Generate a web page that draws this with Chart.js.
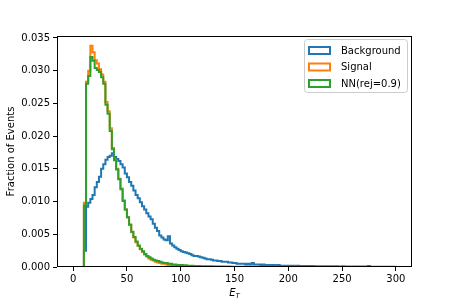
<!DOCTYPE html>
<html>
<head>
<meta charset="utf-8">
<script src="https://cdn.jsdelivr.net/npm/chart.js@4.4.1/dist/chart.umd.min.js"></script>
<style>
  html, body { margin: 0; padding: 0; background: #fff; }
  #wrap { width: 458px; height: 305px; }
</style>
</head>
<body>
<div id="wrap"><canvas id="histchart" width="458" height="305"></canvas></div>
<script>
// histogram bins: width 2, edges 0..300 (density values)
const binWidth = 2;
const binStart = 0;
const binEnd = 300;

const backgroundValues = [
  0, 0, 0, 0, 0, 0.0025, 0.0092, 0.0098, 0.0104, 0.0110,
  0.0122, 0.0130, 0.0138, 0.0150, 0.0157, 0.0164, 0.0168, 0.0170, 0.0174, 0.0168,
  0.0165, 0.0162, 0.0157, 0.0152, 0.0143, 0.0137, 0.0130, 0.0124, 0.0117, 0.0110,
  0.0105, 0.0099, 0.0093, 0.0088, 0.0082, 0.0077, 0.0073, 0.0066, 0.0060, 0.0055,
  0.0048, 0.0045, 0.0042, 0.0041, 0.0047, 0.0036, 0.0033, 0.0030, 0.0028, 0.0026,
  0.0024, 0.0023, 0.0022, 0.0021, 0.0020, 0.0018, 0.0017, 0.0017, 0.0016, 0.0015,
  0.0014, 0.0013, 0.0012, 0.0012, 0.0011, 0.0010, 0.0010, 0.0009, 0.0009, 0.0008,
  0.0008, 0.0008, 0.0007, 0.0007, 0.0006, 0.0006, 0.0005, 0.0005, 0.0005, 0.0005,
  0.0004, 0.0005, 0.0004, 0.0006, 0.0004, 0.0004, 0.0004, 0.0003, 0.0004, 0.0003,
  0.0003, 0.0003, 0.0003, 0.0003, 0.0002, 0.0003, 0.0002, 0.0002, 0.0002, 0.0002,
  0.0002, 0.0002, 0.0002, 0.00015, 0.0002, 0.00015, 0.00015, 0.00015, 0.0001, 0.00015,
  0.0001, 0.00015, 0.0001, 0.0001, 0.0001, 0.00012, 0.0001, 0.0001, 0.00008, 0.0001,
  0.0001, 0.00008, 0.0001, 0.00008, 0.00008, 0.0001, 0.00006, 0.00008, 0.00008, 0.00006,
  0.00008, 0.00006, 0.00006, 0.00008, 0.00006, 0.00006, 0.00005, 0.00015, 0.00005, 0.00005,
  0.00005, 0.00004, 0.00005, 0.00004, 0.00004, 0.00004, 0.00003, 0.00004, 0.00003, 0.00003
];

const signalValues = [
  0, 0, 0, 0, 0, 0.0098, 0.0283, 0.0300, 0.0338, 0.0328,
  0.0316, 0.0311, 0.0302, 0.0294, 0.0283, 0.0252, 0.0238, 0.0212, 0.0182, 0.0164,
  0.0150, 0.0135, 0.0120, 0.0102, 0.0088, 0.0076, 0.0064, 0.0053, 0.0045, 0.0038,
  0.0032, 0.0027, 0.0023, 0.0019, 0.0016, 0.0013, 0.0011, 0.0010, 0.0008, 0.0007,
  0.0006, 0.0005, 0.0005, 0.0004, 0.0003, 0.0003, 0.00025, 0.0002, 0.0002, 0.00015,
  0.00015, 0.0001, 0.0001, 0.0001, 0.00008, 0.00008, 0.00006, 0.00006, 0.00005, 0.00005,
  0.00004, 0.00003, 0.00004, 0.00003, 0.00002, 0.00003, 0.00002, 0.00002, 0.00001, 0.00002,
  0.00001, 0.00001, 0.00001, 0, 0.00001, 0, 0.00001, 0, 0, 0.00001,
  0, 0, 0.00001, 0, 0, 0, 0, 0.00001, 0, 0,
  0, 0, 0, 0, 0, 0, 0, 0, 0, 0,
  0, 0, 0, 0, 0, 0, 0, 0, 0, 0,
  0, 0, 0, 0, 0, 0, 0, 0, 0, 0,
  0, 0, 0, 0, 0, 0, 0, 0, 0, 0,
  0, 0, 0, 0, 0, 0, 0, 0, 0, 0,
  0, 0, 0, 0, 0, 0, 0, 0, 0, 0
];

const nnValues = [
  0, 0, 0, 0, 0, 0.0094, 0.0280, 0.0292, 0.0321, 0.0315,
  0.0304, 0.0301, 0.0298, 0.0290, 0.0280, 0.0248, 0.0234, 0.0208, 0.0180, 0.0163,
  0.0149, 0.0134, 0.0119, 0.0101, 0.0088, 0.0076, 0.0065, 0.0054, 0.0046, 0.0039,
  0.0033, 0.0028, 0.0024, 0.0020, 0.0017, 0.0015, 0.0013, 0.0011, 0.0010, 0.0009,
  0.0008, 0.0007, 0.0006, 0.0006, 0.0005, 0.0005, 0.0004, 0.0004, 0.0003, 0.0003,
  0.0003, 0.00025, 0.00025, 0.0002, 0.0002, 0.0002, 0.00015, 0.00015, 0.00015, 0.0001,
  0.0001, 0.0001, 0.0001, 0.00008, 0.0001, 0.00008, 0.00008, 0.00006, 0.00008, 0.00006,
  0.00006, 0.00005, 0.00006, 0.00005, 0.00005, 0.00004, 0.00005, 0.00004, 0.00004, 0.00004,
  0.00003, 0.00004, 0.00003, 0.00003, 0.00003, 0.00003, 0.00002, 0.00003, 0.00002, 0.00002,
  0.00002, 0.00002, 0.00002, 0.00002, 0.00002, 0.00001, 0.00002, 0.00001, 0.00002, 0.00001,
  0.00001, 0.00001, 0.00001, 0.00001, 0.00001, 0.00001, 0.00001, 0.00001, 0.00001, 0.00001,
  0.00001, 0.00001, 0.00001, 0.00001, 0.00001, 0.00001, 0.00001, 0.00001, 0.00001, 0.00001,
  0.00001, 0.00001, 0.00001, 0.00001, 0.00001, 0.00001, 0.00001, 0.00001, 0.00001, 0.00001,
  0.00001, 0.00001, 0.00001, 0.00001, 0.00001, 0.00001, 0.00001, 0.00001, 0.00001, 0.00001,
  0.00001, 0.00001, 0.00001, 0.00001, 0.00001, 0.00001, 0.00001, 0.00001, 0.00001, 0.00001
];

const seriesNames = ["Background", "Signal", "NN(rej=0.9)"];
const seriesColors = ["#1f77b4", "#ff7f0e", "#2ca02c"];

const xTicks = [0, 50, 100, 150, 200, 250, 300];
const yTicks = [0, 0.005, 0.010, 0.015, 0.020, 0.025, 0.030, 0.035];

// turn bin values into step points (left edge -> value, last edge -> 0)
const tosteps = (values) => {
  const pts = values.map((v, i) => ({ x: binStart + i * binWidth, y: v }));
  pts.push({ x: binEnd, y: 0 });
  return pts;
};

const fontname = "'DejaVu Sans', sans-serif";

// frame, legend and axis titles like matplotlib
const mplextras = {
  id: "mplextras",
  afterDraw(chart) {
    const ctx = chart.ctx;
    const a = chart.chartArea;
    ctx.save();
    // four spines
    ctx.strokeStyle = "#000";
    ctx.lineWidth = 1;
    ctx.strokeRect(Math.round(a.left) + 0.5, Math.round(a.top) + 0.5,
      Math.round(a.right - a.left) - 1, Math.round(a.bottom - a.top) - 1);

    // legend box in upper right
    const lw = 103, lh = 53;
    const lx = a.right - 5 - lw, ly = a.top + 3;
    ctx.beginPath();
    if (ctx.roundRect) ctx.roundRect(lx + 0.5, ly + 0.5, lw, lh, 3);
    else ctx.rect(lx + 0.5, ly + 0.5, lw, lh);
    ctx.fillStyle = "rgba(255,255,255,0.8)";
    ctx.fill();
    ctx.strokeStyle = "#cccccc";
    ctx.lineWidth = 1;
    ctx.stroke();
    ctx.font = "10px " + fontname;
    ctx.textBaseline = "middle";
    ctx.textAlign = "left";
    for (let i = 0; i < seriesNames.length; i++) {
      const cy = ly + 11.5 + i * 16.5;
      ctx.strokeStyle = seriesColors[i];
      ctx.lineWidth = 2;
      ctx.strokeRect(lx + 5, cy - 3.5, 21, 7);
      ctx.fillStyle = "#000";
      ctx.fillText(seriesNames[i], lx + 37, cy + 0.5);
    }

    // y axis title
    ctx.save();
    ctx.translate(11, (a.top + a.bottom) / 2);
    ctx.rotate(-Math.PI / 2);
    ctx.textAlign = "center";
    ctx.fillStyle = "#000";
    ctx.font = "10px " + fontname;
    ctx.fillText("Fraction of Events", 0, 0);
    ctx.restore();

    // x axis title E_T
    const cx = (a.left + a.right) / 2;
    const ty = a.bottom + 26;
    ctx.fillStyle = "#000";
    ctx.font = "italic 10px " + fontname;
    const ew = ctx.measureText("E").width;
    ctx.font = "italic 7px " + fontname;
    const tw = ctx.measureText("T").width;
    const x0 = cx - (ew + tw) / 2;
    ctx.font = "italic 10px " + fontname;
    ctx.fillText("E", x0, ty);
    ctx.font = "italic 7px " + fontname;
    ctx.fillText("T", x0 + ew, ty + 3);
    ctx.restore();
  }
};

const ctx = document.getElementById("histchart");
new Chart(ctx, {
  type: "line",
  data: {
    datasets: [
      {
        label: seriesNames[0],
        data: tosteps(backgroundValues),
        borderColor: seriesColors[0],
        order: 3
      },
      {
        label: seriesNames[1],
        data: tosteps(signalValues),
        borderColor: seriesColors[1],
        order: 2
      },
      {
        label: seriesNames[2],
        data: tosteps(nnValues),
        borderColor: seriesColors[2],
        order: 1
      }
    ].map(d => Object.assign(d, {
      stepped: "before",
      borderWidth: 2,
      pointRadius: 0,
      fill: false,
      tension: 0
    }))
  },
  options: {
    responsive: false,
    animation: false,
    events: [],
    layout: {
      padding: { top: 36, right: 46, left: 0, bottom: 0 }
    },
    scales: {
      x: {
        type: "linear",
        min: -15,
        max: 315,
        afterFit: (scale) => { scale.height = 38; },
        afterBuildTicks: (scale) => { scale.ticks = xTicks.map(v => ({ value: v })); },
        ticks: {
          color: "#000",
          padding: 2,
          maxRotation: 0,
          font: { family: fontname, size: 10 },
          callback: (v) => String(v)
        },
        grid: {
          display: true,
          drawOnChartArea: false,
          drawTicks: true,
          tickLength: 4,
          tickColor: "#000"
        },
        border: { display: false }
      },
      y: {
        min: 0,
        max: 0.0353,
        afterFit: (scale) => { scale.width = 57; },
        afterBuildTicks: (scale) => { scale.ticks = yTicks.map(v => ({ value: v })); },
        ticks: {
          color: "#000",
          padding: 3,
          font: { family: fontname, size: 10 },
          callback: (v) => Number(v).toFixed(3)
        },
        grid: {
          display: true,
          drawOnChartArea: false,
          drawTicks: true,
          tickLength: 4,
          tickColor: "#000"
        },
        border: { display: false }
      }
    },
    plugins: {
      legend: { display: false },
      tooltip: { enabled: false },
      title: { display: false }
    }
  },
  plugins: [mplextras]
});
</script>
</body>
</html>
